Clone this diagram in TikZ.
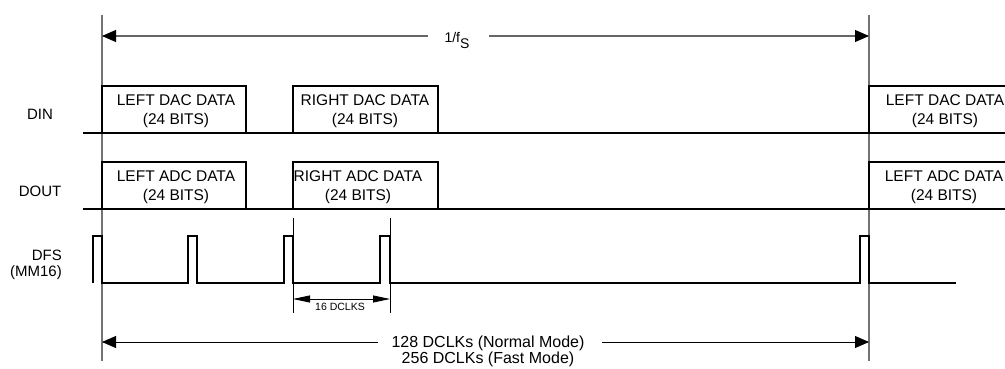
\documentclass[tikz,border=0pt]{standalone}
\usepackage{fontspec}
\setmainfont{Liberation Sans}
\usetikzlibrary{arrows.meta}
\tikzset{
  bigtip/.tip={Triangle[length=14pt,width=12pt,color=black]},
  smalltip/.tip={Triangle[length=17pt,width=7pt,color=black]},
}
\begin{document}
\begin{tikzpicture}[x=1pt,y=-1pt,
  sig/.style={line width=2.4pt, line join=miter, line cap=butt},
  guide/.style={line width=1.3pt, draw=black!55},
  tick/.style={line width=0.9pt, draw=black},
  measline/.style={line width=1.1pt, draw=black!60},
  boxtxt/.style={font=\fontsize{15.5}{18.5}\selectfont, align=center, inner sep=0pt},
  lbl/.style={font=\fontsize{15}{15.5}\selectfont, align=right, inner sep=0pt},
  ]
\useasboundingbox (0,0) rectangle (1005,369);

% guide lines
\coordinate (gLt) at (102,15);
\coordinate (gLb) at (102,361);
\coordinate (gRt) at (869,15);
\coordinate (gRb) at (869,361);
\draw[guide] (gLt) -- (gLb);
\draw[guide] (gRt) -- (gRb);

% 1/fS arrow
\node[inner sep=0pt, font=\fontsize{14}{16}\selectfont] (fs) at (457,40) {1/f\raisebox{-6pt}{S}};
\coordinate (aL) at (102,36);
\coordinate (aR) at (869,36);
\draw[measline, arrows={bigtip-}] (aL) -- (428,36);
\draw[measline, arrows={-bigtip}] (489,36) -- (aR);

% labels
\node[lbl, anchor=center] (din) at (40,114) {DIN};
\node[lbl, anchor=center] (dout) at (40,191) {DOUT};
\node[lbl, anchor=east] (dfs) at (62,265) {DFS\\(MM16)};

% DIN
\draw[sig] (83,133) -- (1010,133);
\draw[sig] (102,133) -- (102,86) -- (246,86) -- (246,133);
\draw[sig] (293,133) -- (293,86) -- (438,86) -- (438,133);
\draw[sig] (869,133) -- (869,86) -- (1010,86);
\node[boxtxt] (dinL) at (176,111) {LEFT DAC DATA\\(24 BITS)};
\node[boxtxt] (dinR) at (365,111) {RIGHT DAC DATA\\(24 BITS)};
\node[boxtxt] (dinL2) at (945,111) {LEFT DAC DATA\\(24 BITS)};

% DOUT
\draw[sig] (83,209) -- (1010,209);
\draw[sig] (102,209) -- (102,162) -- (246,162) -- (246,209);
\draw[sig] (293,209) -- (293,162) -- (438,162) -- (438,209);
\draw[sig] (869,209) -- (869,162) -- (1010,162);
\node[boxtxt] (doutL) at (176,187) {LEFT ADC DATA\\(24 BITS)};
\node[boxtxt] (doutR) at (358,187) {RIGHT ADC DATA\\(24 BITS)};
\node[boxtxt] (doutL2) at (944,187) {LEFT ADC DATA\\(24 BITS)};

% DFS
\draw[sig] (93,283) -- (93,236) -- (102,236) -- (102,283) -- (188,283) -- (188,236) -- (197,236) -- (197,283)
  -- (284,283) -- (284,236) -- (293,236) -- (293,283) -- (380,283) -- (380,236) -- (390,236) -- (390,283)
  -- (860,283) -- (860,236) -- (869,236) -- (869,283) -- (956,283);

% 16 DCLKS
\coordinate (t1a) at (293,218);
\coordinate (t1b) at (293,313);
\coordinate (t2a) at (390,218);
\coordinate (t2b) at (390,313);
\draw[tick] (t1a) -- (t1b);
\draw[tick] (t2a) -- (t2b);
\coordinate (s1) at (293,299);
\coordinate (s2) at (390,299);
\draw[line width=0.8pt, arrows={smalltip-smalltip}] (s1) -- (s2);
\node[inner sep=0pt, font=\fontsize{10.5}{12}\selectfont] (dclk16) at (340,307) {16 DCLKS};

% bottom arrow
\node[inner sep=0pt, align=center, font=\fontsize{16}{14.5}\selectfont] (dclk) at (488,351) {128 DCLKs (Normal Mode)\\256 DCLKs (Fast Mode)};
\coordinate (bL) at (102,342);
\coordinate (bR) at (869,342);
\draw[line width=0.9pt, arrows={bigtip-}] (bL) -- (378,342);
\draw[line width=0.9pt, arrows={-bigtip}] (602,342) -- (bR);
\end{tikzpicture}
\end{document}
